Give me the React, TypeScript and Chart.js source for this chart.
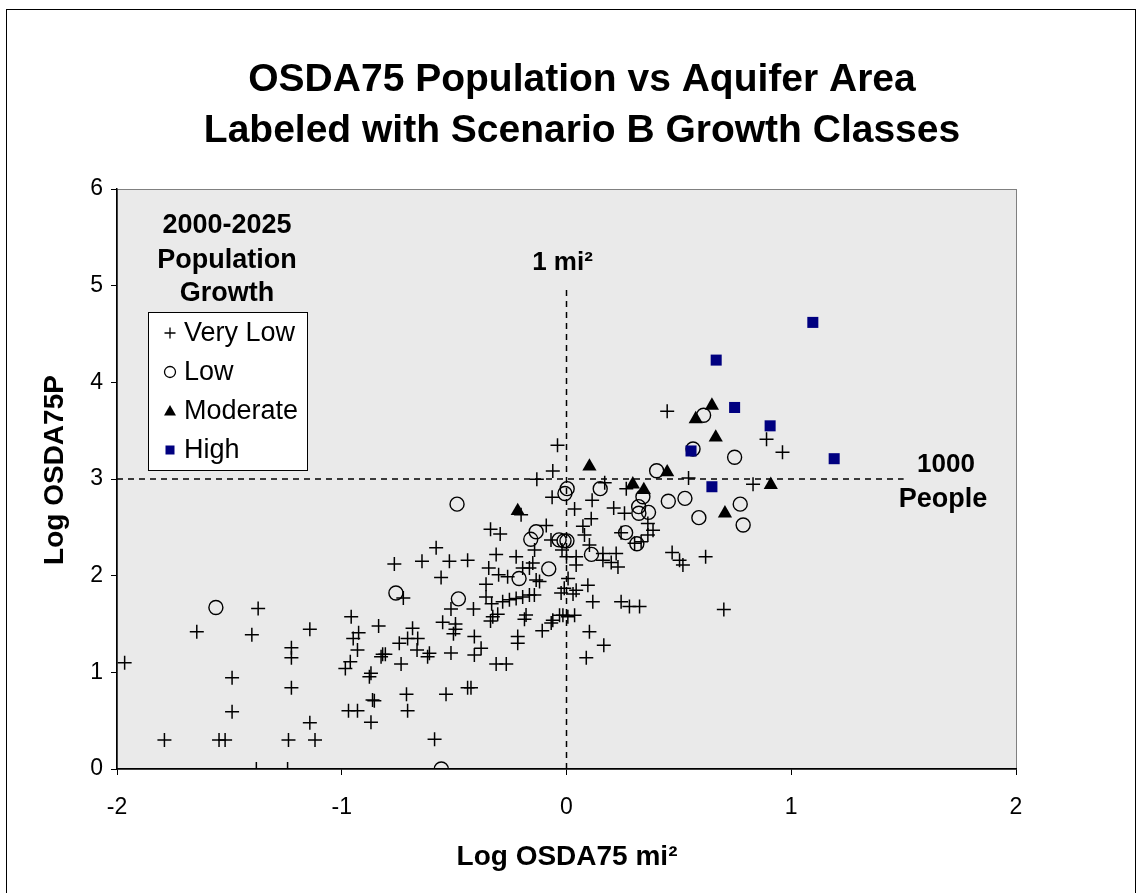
import React, { useEffect, useRef } from 'react';
import { Chart, registerables } from 'chart.js';

Chart.register(...registerables);

const titleLines = ['OSDA75 Population vs Aquifer Area', 'Labeled with Scenario B Growth Classes'];
const xAxisTitle = 'Log OSDA75 mi²';
const yAxisTitle = 'Log OSDA75P';
const legendTitle = ['2000-2025', 'Population', 'Growth'];
const seriesNames = ['Very Low', 'Low', 'Moderate', 'High'];
const xTicks = [-2, -1, 0, 1, 2];
const yTicks = [0, 1, 2, 3, 4, 5, 6];

const veryLow: [number, number][] = [
  [-1.372, 1.66], [-1.645, 1.42], [-1.40, 1.39], [-1.142, 1.445], [-1.224, 1.255], [-1.224, 1.15],
  [-1.966, 1.10], [-1.488, 0.945], [-1.224, 0.84], [-1.488, 0.593], [-1.142, 0.479], [-1.789, 0.30],
  [-1.546, 0.30], [-1.519, 0.30], [-1.237, 0.30], [-1.119, 0.30], [-1.38, 0.0], [-1.241, 0.0],
  [-0.061, 3.083], [-0.132, 2.997], [-0.064, 2.81], [-0.202, 2.63], [0.036, 2.69], [-0.09, 2.52],
  [-0.338, 2.48], [-0.295, 2.43], [-0.58, 2.29], [-0.766, 2.12], [-0.643, 2.15], [-0.521, 2.15],
  [-0.44, 2.16], [-0.313, 2.22], [-0.224, 2.196], [-0.069, 2.37], [-0.142, 2.265], [-0.195, 2.08],
  [-0.165, 2.08], [-0.15, 2.13], [-0.346, 2.08], [-0.302, 2.01], [-0.262, 1.99], [-0.558, 1.98],
  [-0.358, 1.91], [-0.135, 1.955], [-0.12, 1.94], [0.007, 1.97], [-0.726, 1.77], [-0.358, 1.78],
  [-0.333, 1.71], [-0.284, 1.73], [-0.254, 1.75], [-0.224, 1.765], [-0.195, 1.78], [-0.165, 1.80],
  [-0.143, 1.80], [-0.01, 1.87], [-0.024, 1.82], [0.043, 1.85], [0.029, 1.81], [-0.514, 1.655],
  [-0.414, 1.655], [-0.551, 1.517], [-0.494, 1.50], [-0.494, 1.445], [-0.503, 1.40], [-0.328, 1.575],
  [-0.306, 1.60], [-0.338, 1.53], [-0.18, 1.593], [-0.187, 1.55], [-0.061, 1.54], [-0.031, 1.59],
  [-0.016, 1.59], [0.006, 1.575], [0.036, 1.59], [-0.068, 1.51], [-0.108, 1.43], [-0.958, 1.575],
  [-0.836, 1.48], [-0.925, 1.41], [-0.949, 1.35], [-0.93, 1.23], [-0.962, 1.11], [-0.984, 1.04],
  [-0.685, 1.455], [-0.707, 1.35], [-0.662, 1.35], [-0.744, 1.30], [-0.665, 1.23], [-0.61, 1.197],
  [-0.618, 1.16], [-0.818, 1.186], [-0.806, 1.186], [-0.825, 1.16], [-0.514, 1.20], [-0.41, 1.37],
  [-0.38, 1.25], [-0.41, 1.18], [-0.736, 1.086], [-0.87, 0.99], [-0.877, 0.955], [-0.313, 1.086],
  [-0.268, 1.086], [-0.217, 1.37], [-0.217, 1.30], [-0.863, 0.714], [-0.855, 0.706], [-0.712, 0.772],
  [-0.536, 0.772], [-0.44, 0.84], [-0.425, 0.84], [-0.97, 0.603], [-0.93, 0.603], [-0.707, 0.603],
  [-0.87, 0.483], [-0.587, 0.307],
  [0.448, 3.70], [-0.04, 3.35], [0.543, 3.01], [0.266, 2.90], [0.17, 2.96], [0.114, 2.78],
  [0.21, 2.70], [0.258, 2.645], [0.11, 2.59], [0.073, 2.51], [0.08, 2.42], [0.362, 2.54],
  [0.385, 2.47], [0.362, 2.42], [0.243, 2.445], [0.303, 2.335], [0.332, 2.35], [0.102, 2.317],
  [0.162, 2.23], [0.162, 2.16], [0.199, 2.135], [0.221, 2.23], [0.229, 2.09], [0.043, 2.196],
  [0.043, 2.11], [0.0, 2.196], [-0.02, 2.265], [0.47, 2.24], [0.503, 2.16], [0.518, 2.11],
  [0.619, 2.196], [0.095, 1.90], [0.117, 1.73], [0.243, 1.73], [0.28, 1.68], [0.325, 1.68],
  [0.102, 1.42], [0.70, 1.65], [0.89, 3.41], [0.961, 3.276], [0.83, 2.945], [0.166, 1.28],
  [0.088, 1.15],
];

const low: [number, number][] = [
  [-1.56, 1.67], [-0.487, 2.74], [0.003, 2.90], [-0.007, 2.85], [-0.135, 2.455], [-0.159, 2.376],
  [-0.033, 2.37], [-0.011, 2.36], [0.002, 2.36], [-0.079, 2.07], [-0.211, 1.97], [-0.759, 1.82],
  [-0.481, 1.76], [-0.557, 0.0], [0.61, 3.66], [0.563, 3.31], [0.401, 3.086], [0.15, 2.90],
  [0.34, 2.817], [0.321, 2.714], [0.322, 2.645], [0.365, 2.655], [0.453, 2.77], [0.527, 2.80],
  [0.589, 2.60], [0.263, 2.445], [0.313, 2.33], [0.111, 2.22], [0.748, 3.225], [0.773, 2.74],
  [0.786, 2.524],
];

const moderate: [number, number][] = [
  [0.647, 3.76], [0.575, 3.62], [0.664, 3.43], [0.102, 3.13], [0.448, 3.07], [0.295, 2.945],
  [0.344, 2.886], [0.909, 2.94], [0.705, 2.645], [-0.217, 2.67],
];

const high: [number, number][] = [
  [1.096, 4.62], [0.666, 4.23], [0.748, 3.74], [0.906, 3.55], [0.554, 3.29], [1.191, 3.21], [0.647, 2.92],
];

// reference lines: 1 mi² (x = 0) and 1000 people (y = 3)
const areaLine: [number, number][] = [[0, 0], [0, 5]];
const peopleLine: [number, number][] = [[-2, 3], [1.5, 3]];
const areaLabel = '1 mi²';
const peopleLabel = ['1000', 'People'];

const FONT = "'Liberation Sans', Arial, sans-serif";
const NAVY = '#000080';

const toPts = (arr: [number, number][]) => arr.map(([x, y]) => ({ x, y }));

const decorPlugin = {
  id: 'decor',
  beforeDraw(chart: any) {
    const { ctx, chartArea } = chart;
    ctx.save();
    ctx.fillStyle = '#ffffff';
    ctx.fillRect(0, 0, chart.width, chart.height);
    ctx.strokeStyle = '#000000';
    ctx.lineWidth = 1;
    ctx.strokeRect(6.5, 9.5, 1129, 900);
    ctx.fillStyle = '#EAEAEA';
    ctx.fillRect(chartArea.left, chartArea.top, chartArea.right - chartArea.left, chartArea.bottom - chartArea.top);
    ctx.strokeStyle = '#808080';
    ctx.strokeRect(chartArea.left + 0.5, chartArea.top + 0.5, chartArea.right - chartArea.left, chartArea.bottom - chartArea.top);
    ctx.restore();
  },
  afterDraw(chart: any) {
    const { ctx, scales } = chart;
    const xs = scales.x;
    ctx.save();
    ctx.fillStyle = '#000';
    ctx.textAlign = 'center';
    ctx.textBaseline = 'middle';
    ctx.font = `bold 39px ${FONT}`;
    ctx.fillText(titleLines[0], 582, 80);
    ctx.fillText(titleLines[1], 582, 131);

    ctx.font = `bold 28px ${FONT}`;
    ctx.fillText(xAxisTitle, 567, 857);
    ctx.save();
    ctx.translate(55, 470);
    ctx.rotate(-Math.PI / 2);
    ctx.fillText(yAxisTitle, 0, 0);
    ctx.restore();

    // reference line labels
    ctx.font = `bold 26px ${FONT}`;
    ctx.fillText(areaLabel, xs.getPixelForValue(0) - 4, 263);
    ctx.fillText(peopleLabel[0], 946, 465);
    ctx.font = `bold 27px ${FONT}`;
    ctx.fillText(peopleLabel[1], 943, 500);

    // legend title
    ctx.font = `bold 27px ${FONT}`;
    ctx.fillText(legendTitle[0], 227, 226);
    ctx.fillText(legendTitle[1], 227, 261);
    ctx.fillText(legendTitle[2], 227, 294);

    // legend box
    ctx.fillStyle = '#fff';
    ctx.fillRect(148, 312, 159, 158);
    ctx.strokeStyle = '#000';
    ctx.lineWidth = 1;
    ctx.strokeRect(148.5, 312.5, 159, 158);
    const rows = [333, 372, 411, 450];
    ctx.font = `27px ${FONT}`;
    ctx.textAlign = 'left';
    rows.forEach((ry, i) => {
      const mx = 170;
      ctx.fillStyle = '#000';
      ctx.strokeStyle = '#000';
      ctx.lineWidth = 1.3;
      if (i === 0) {
        ctx.beginPath();
        ctx.moveTo(mx - 5.5, ry); ctx.lineTo(mx + 5.5, ry);
        ctx.moveTo(mx, ry - 5.5); ctx.lineTo(mx, ry + 5.5);
        ctx.stroke();
      } else if (i === 1) {
        ctx.beginPath();
        ctx.arc(mx, ry, 5.5, 0, Math.PI * 2);
        ctx.stroke();
      } else if (i === 2) {
        ctx.beginPath();
        ctx.moveTo(mx, ry - 6); ctx.lineTo(mx + 6, ry + 4.5); ctx.lineTo(mx - 6, ry + 4.5);
        ctx.closePath();
        ctx.fill();
      } else {
        ctx.fillStyle = NAVY;
        ctx.fillRect(mx - 4.5, ry - 4.5, 9, 9);
      }
      ctx.fillStyle = '#000';
      ctx.fillText(seriesNames[i], 184, ry + 1);
    });
    ctx.restore();
  },
};

export default function App() {
  const canvasRef = useRef<HTMLCanvasElement | null>(null);

  useEffect(() => {
    const canvas = canvasRef.current;
    if (!canvas) return;
    const dashed = {
      type: 'line' as const,
      borderColor: '#000',
      borderWidth: 1.5,
      borderDash: [6, 5],
      pointRadius: 0,
      fill: false,
      showLine: true,
    };
    const chart = new Chart(canvas, {
      type: 'scatter',
      data: {
        datasets: [
          { label: seriesNames[3], data: toPts(high), pointStyle: 'rect', pointRadius: 7.8, backgroundColor: NAVY, borderColor: NAVY, borderWidth: 0 },
          { label: seriesNames[2], data: toPts(moderate), pointStyle: 'triangle', pointRadius: 8.2, backgroundColor: '#000', borderColor: '#000', borderWidth: 0 },
          { label: seriesNames[1], data: toPts(low), pointStyle: 'circle', pointRadius: 7, backgroundColor: 'rgba(0,0,0,0)', borderColor: '#000', borderWidth: 1.4 },
          { label: seriesNames[0], data: toPts(veryLow), pointStyle: 'cross', pointRadius: 7, backgroundColor: '#000', borderColor: '#000', borderWidth: 1.5 },
          { ...dashed, label: 'area', data: toPts(areaLine) },
          { ...dashed, label: 'people', data: toPts(peopleLine) },
        ] as any,
      },
      options: {
        responsive: false,
        animation: false,
        devicePixelRatio: 1,
        layout: { padding: { top: 189, right: 122, left: 0, bottom: 0 } },
        plugins: { legend: { display: false }, tooltip: { enabled: false }, title: { display: false } },
        scales: {
          x: {
            type: 'linear',
            min: -2,
            max: 2,
            afterBuildTicks: (s: any) => { s.ticks = xTicks.map((v) => ({ value: v })); },
            afterFit: (s: any) => { s.height = 124; },
            grid: { display: true, drawOnChartArea: false, drawTicks: true, tickLength: 6, color: '#000', lineWidth: 1 },
            border: { display: true, color: '#000', width: 1.5 },
            ticks: { color: '#000', font: { family: FONT, size: 23 }, padding: 19, maxRotation: 0 },
          },
          y: {
            type: 'linear',
            min: 0,
            max: 6,
            afterBuildTicks: (s: any) => { s.ticks = yTicks.map((v) => ({ value: v })); },
            afterFit: (s: any) => { s.width = 117; },
            grid: { display: true, drawOnChartArea: false, drawTicks: true, tickLength: 6, color: '#000', lineWidth: 1 },
            border: { display: true, color: '#000', width: 1.5 },
            ticks: { color: '#000', font: { family: FONT, size: 23 }, padding: 8 },
          },
        },
      },
      plugins: [decorPlugin],
    });
    return () => chart.destroy();
  }, []);

  return (
    <div style={{ position: 'fixed', left: 0, top: 0, width: 1138, height: 893, background: '#fff' }}>
      <canvas ref={canvasRef} width={1138} height={893} style={{ display: 'block' }} />
    </div>
  );
}
